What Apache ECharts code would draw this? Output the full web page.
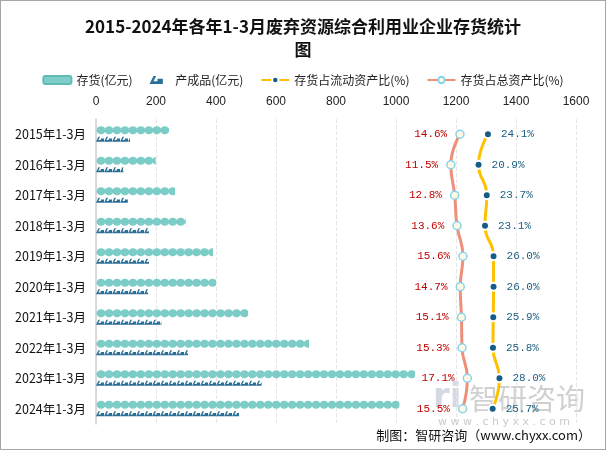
<!DOCTYPE html>
<html><head><meta charset="utf-8">
<script src="https://cdn.jsdelivr.net/npm/echarts@6/dist/echarts.min.js"></script>
<style>
html,body{margin:0;padding:0;background:#fff;}
#c{width:606px;height:450px;box-sizing:border-box;border:1px solid #a6a6a6;}
</style></head>
<body><div id="c"></div>
<script>
const categories = ['2015年1-3月','2016年1-3月','2017年1-3月','2018年1-3月','2019年1-3月','2020年1-3月','2021年1-3月','2022年1-3月','2023年1-3月','2024年1-3月'];
const inventory = [243, 199, 263, 299, 390, 400, 507, 710, 1063, 1011];
const finishedGoods = [113, 91, 106, 177, 177, 173, 218, 307, 552, 477];
const ratioCurrent = [24.1, 20.9, 23.7, 23.1, 26.0, 26.0, 25.9, 25.8, 28.0, 25.7];
const ratioTotal = [14.6, 11.5, 12.8, 13.6, 15.6, 14.7, 15.1, 15.3, 17.1, 15.5];
const xTicks = [0, 200, 400, 600, 800, 1000, 1200, 1400, 1600];

const chart = echarts.init(document.getElementById('c'));
const labelFont = 'Liberation Mono, DejaVu Sans Mono, monospace';
const cjk = 'Noto Sans CJK SC, sans-serif';
const prodPath = 'path://M0,6 L3,0 L5,0 L3,4 L6,4 L6,2 L10,2 L10,6 Z';
const pct = p => Number(p.value).toFixed(1) + '%';
chart.setOption({
  animation: false,
  title: {
    text: '2015-2024年各年1-3月废弃资源综合利用业企业存货统计\n图',
    left: 'center', top: 9,
    textStyle: {fontFamily: cjk, fontSize: 17, fontWeight: 'bold', color: '#111', lineHeight: 23}
  },
  legend: {
    top: 68, left: 'center', itemWidth: 28, itemHeight: 8, itemGap: 17,
    textStyle: {fontFamily: cjk, fontSize: 12, color: '#222'},
    data: [
      {name: '存货(亿元)', icon: 'roundRect', itemStyle: {color: '#7fcfc9'}},
      {name: '产成品(亿元)', icon: prodPath, itemStyle: {color: '#2a6f97'}},
      {name: '存货占流动资产比(%)'},
      {name: '存货占总资产比(%)'}
    ]
  },
  grid: {left: 95, right: 29, top: 118, bottom: 25},
  xAxis: [{
    type: 'value', position: 'top', min: xTicks[0], max: xTicks[xTicks.length-1], interval: 200,
    axisLine: {show: false}, axisTick: {show: false},
    axisLabel: {margin: 11, fontFamily: 'Liberation Sans, sans-serif', fontSize: 12, color: '#222', formatter: v => String(v)},
    splitLine: {show: true, lineStyle: {type: 'dashed', color: '#e6e6e6'}}
  }, {
    type: 'value', min: -109, max: 54, show: false, splitLine: {show: false}
  }],
  yAxis: {
    type: 'category', data: categories, inverse: true,
    axisLine: {show: true, lineStyle: {color: '#d0d0d0', width: 1.5}},
    axisTick: {show: false},
    axisLabel: {fontFamily: cjk, fontSize: 12.5, color: '#111', margin: 10}
  },
  series: [
    {
      name: '存货(亿元)', type: 'pictorialBar', xAxisIndex: 0,
      symbol: 'circle', symbolRepeat: 'fixed', symbolClip: true, symbolBoundingData: 1600,
      symbolSize: [9, 8], symbolMargin: -1, symbolOffset: [0, -4], barGap: '-100%', barWidth: 20,
      itemStyle: {color: '#7ccdc7', borderColor: '#5fbcb5', borderWidth: 1},
      data: inventory, z: 3
    },
    {
      name: '产成品(亿元)', type: 'pictorialBar', xAxisIndex: 0,
      symbol: prodPath, symbolRepeat: 'fixed', symbolClip: true, symbolBoundingData: 1600,
      symbolSize: [8, 5], symbolMargin: 0, symbolOffset: [0, 5], barGap: '-100%', barWidth: 20,
      itemStyle: {color: '#2a6f97'},
      data: finishedGoods, z: 3
    },
    {
      name: '存货占流动资产比(%)', type: 'line', xAxisIndex: 1, smooth: true,
      symbol: 'circle', symbolSize: 8,
      lineStyle: {color: '#ffc000', width: 3},
      itemStyle: {color: '#155d87', borderColor: '#fff', borderWidth: 2},
      label: {show: true, position: 'right', distance: 8, formatter: pct, color: '#1a5f80', fontFamily: labelFont, fontSize: 11},
      data: ratioCurrent, z: 5
    },
    {
      name: '存货占总资产比(%)', type: 'line', xAxisIndex: 1, smooth: true,
      symbol: 'circle', symbolSize: 8,
      lineStyle: {color: '#ef8f7a', width: 3},
      itemStyle: {color: '#fff8e3', borderColor: '#86d3ef', borderWidth: 1.5},
      label: {show: true, position: 'left', distance: 8, formatter: pct, color: '#c00000', fontFamily: labelFont, fontSize: 11},
      data: ratioTotal, z: 5
    }
  ],
  graphic: [
    {type: 'text', left: 432, top: 380, z: 0, style: {text: 'ri', fontSize: 34, fontWeight: 'bold', fontFamily: 'DejaVu Sans', fill: 'rgba(160,170,200,0.45)'}},
    {type: 'text', left: 468, top: 383, z: 0, style: {text: '智研咨询', fontSize: 29, fontFamily: cjk, fill: 'rgba(150,150,150,0.45)'}},
    {type: 'text', left: 437, top: 416, z: 0, style: {text: 'w w w . c h y x x . c o m', fontSize: 11, fontFamily: 'DejaVu Sans', fill: 'rgba(150,150,150,0.5)'}},
    {type: 'text', right: 14, top: 428, style: {text: '制图：智研咨询（www.chyxx.com）', fontSize: 13, fontFamily: cjk, fill: '#111'}}
  ]
});
</script></body></html>
